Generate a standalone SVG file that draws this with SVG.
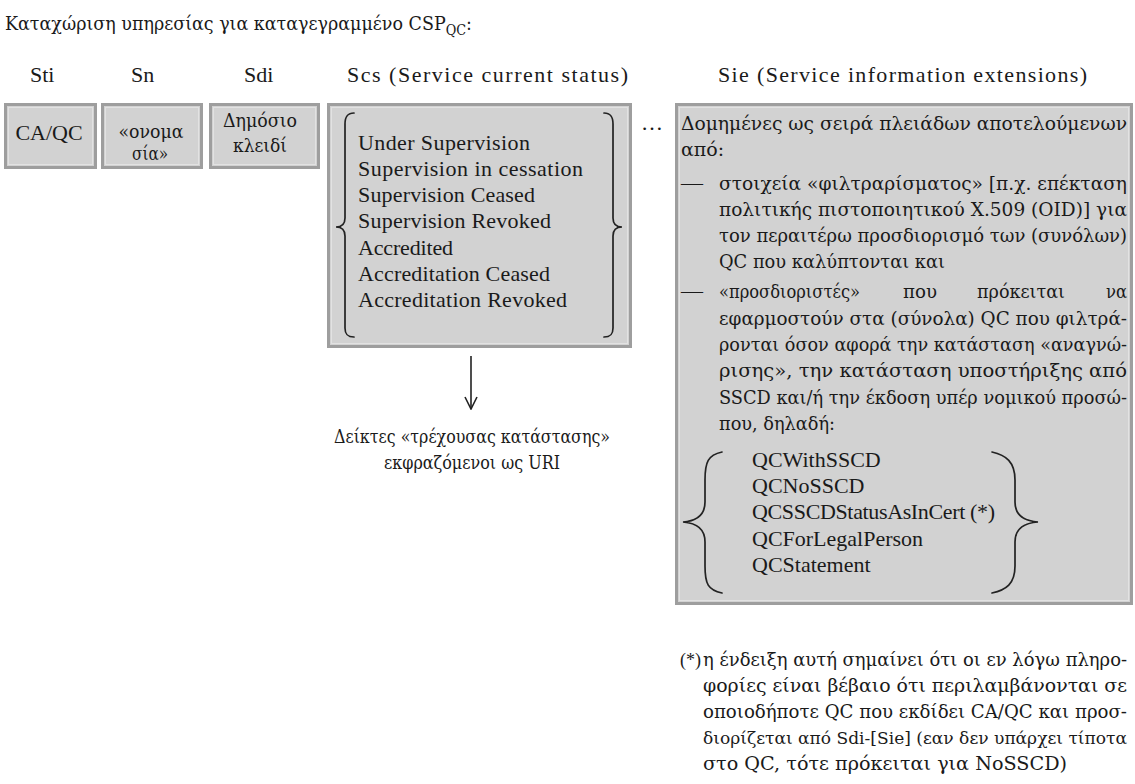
<svg xmlns="http://www.w3.org/2000/svg" width="1135" height="784" viewBox="0 0 1135 784">
<style>
text{font-family:"Liberation Serif","DejaVu Serif",serif;font-size:22px;fill:#1a1a1a}
text.gr{font-family:"DejaVu Serif","Liberation Serif",serif;font-size:19px}
text.j{font-size:18px}
.box{fill:#d2d2d2;stroke:#9e9e9e;stroke-width:3}
.inner{fill:none;stroke:#e2e2e2;stroke-width:1}
.brace{fill:none;stroke:#222;stroke-width:1.7;stroke-linecap:round}
.conn{stroke:#222;stroke-width:1.6;fill:none}
.mid{text-anchor:middle}
</style>
<defs>
<marker id="arrow" viewBox="0 0 14 14" refX="13" refY="7" markerWidth="14" markerHeight="14" markerUnits="userSpaceOnUse" orient="auto">
<path d="M1,1 L13,7 L1,13" fill="none" stroke="#222" stroke-width="1.6"/>
</marker>
</defs>
<rect width="1135" height="784" fill="#ffffff"/>

<g id="title">
<text class="gr" x="5" y="30" textLength="467" lengthAdjust="spacingAndGlyphs">Καταχώριση υπηρεσίας για καταγεγραμμένο CSP<tspan dy="5" style="font-size:14px">QC</tspan><tspan dy="-5">:</tspan></text>
</g>

<g id="headers">
<text x="30" y="82">Sti</text>
<text x="131" y="82">Sn</text>
<text x="244" y="82">Sdi</text>
<text x="347" y="82" textLength="281" lengthAdjust="spacing">Scs (Service current status)</text>
<text x="718" y="82" textLength="369" lengthAdjust="spacing">Sie (Service information extensions)</text>
</g>

<g id="node-sti">
<rect class="box" x="5.5" y="104.5" width="90" height="63"/>
<rect class="inner" x="8.5" y="107.5" width="84" height="57"/>
<text class="mid" x="49" y="140">CA/QC</text>
</g>

<g id="node-sn">
<rect class="box" x="102.5" y="104.5" width="99" height="63"/>
<rect class="inner" x="105.5" y="107.5" width="93" height="57"/>
<text class="gr mid" x="151" y="138" textLength="65" lengthAdjust="spacingAndGlyphs">«ονομα</text>
<text class="gr mid" x="150" y="160" textLength="36" lengthAdjust="spacingAndGlyphs">σία»</text>
</g>

<g id="node-sdi">
<rect class="box" x="210.5" y="104.5" width="108" height="63"/>
<rect class="inner" x="213.5" y="107.5" width="102" height="57"/>
<text class="gr mid" x="260" y="127" textLength="74" lengthAdjust="spacingAndGlyphs">Δημόσιο</text>
<text class="gr mid" x="260" y="152" textLength="54" lengthAdjust="spacingAndGlyphs">κλειδί</text>
</g>

<g id="node-scs">
<rect class="box" x="328.5" y="104.5" width="302" height="242"/>
<rect class="inner" x="331.5" y="107.5" width="296" height="236"/>
<path class="brace" d="M354,113 C347,113 345,117 345,124 L345,218 C345,224 342,227 336,227 C342,227 345,230 345,236 L345,328 C345,334 347,337 354,337"/>
<path class="brace" d="M604,113 C611,113 613,117 613,124 L613,218 C613,224 616,227 622,227 C616,227 613,230 613,236 L613,328 C613,334 611,337 604,337"/>
<text x="358" y="150" textLength="172" lengthAdjust="spacing">Under Supervision</text>
<text x="358" y="176" textLength="225" lengthAdjust="spacing">Supervision in cessation</text>
<text x="358" y="202" textLength="177" lengthAdjust="spacing">Supervision Ceased</text>
<text x="358" y="228" textLength="193" lengthAdjust="spacing">Supervision Revoked</text>
<text x="358" y="255" textLength="95" lengthAdjust="spacing">Accredited</text>
<text x="358" y="281" textLength="192" lengthAdjust="spacing">Accreditation Ceased</text>
<text x="358" y="307" textLength="209" lengthAdjust="spacing">Accreditation Revoked</text>
</g>

<g id="ellipsis">
<text x="641" y="130" textLength="22" lengthAdjust="spacing">…</text>
</g>

<g id="node-sie">
<rect class="box" x="676.5" y="104.5" width="455" height="499"/>
<rect class="inner" x="679.5" y="107.5" width="449" height="493"/>
<text class="gr j" x="681" y="130" textLength="446" lengthAdjust="spacingAndGlyphs">Δομημένες ως σειρά πλειάδων αποτελούμενων</text>
<text class="gr" x="681" y="156">από:</text>
<text x="681" y="190">—</text>
<text class="gr j" x="719" y="190" textLength="408" lengthAdjust="spacingAndGlyphs">στοιχεία «φιλτραρίσματος» [π.χ. επέκταση</text>
<text class="gr j" x="719" y="216" textLength="408" lengthAdjust="spacingAndGlyphs">πολιτικής πιστοποιητικού X.509 (OID)] για</text>
<text class="gr j" x="719" y="242" textLength="408" lengthAdjust="spacingAndGlyphs">τον περαιτέρω προσδιορισμό των (συνόλων)</text>
<text class="gr" x="719" y="268" textLength="226" lengthAdjust="spacingAndGlyphs">QC που καλύπτονται και</text>
<text x="681" y="298">—</text>
<text class="gr" x="719" y="298" textLength="141" lengthAdjust="spacingAndGlyphs">«προσδιοριστές»</text>
<text class="gr" x="903" y="298" textLength="34" lengthAdjust="spacingAndGlyphs">που</text>
<text class="gr" x="977" y="298" textLength="88" lengthAdjust="spacingAndGlyphs">πρόκειται</text>
<text class="gr" x="1106" y="298" textLength="21" lengthAdjust="spacingAndGlyphs">να</text>
<text class="gr j" x="719" y="325" textLength="408" lengthAdjust="spacingAndGlyphs">εφαρμοστούν στα (σύνολα) QC που φιλτρά-</text>
<text class="gr j" x="719" y="351" textLength="408" lengthAdjust="spacingAndGlyphs">ρονται όσον αφορά την κατάσταση «αναγνώ-</text>
<text class="gr j" x="719" y="377" textLength="408" lengthAdjust="spacingAndGlyphs">ρισης», την κατάσταση υποστήριξης από</text>
<text class="gr j" x="719" y="404" textLength="408" lengthAdjust="spacingAndGlyphs">SSCD και/ή την έκδοση υπέρ νομικού προσώ-</text>
<text class="gr" x="719" y="430" textLength="116" lengthAdjust="spacingAndGlyphs">που, δηλαδή:</text>
<path class="brace" d="M722,452 C708,455 705,462 705,480 L705,502 C705,515 697,521 683,522 C697,523 705,529 705,542 L705,566 C705,584 708,590 722,593"/>
<path class="brace" d="M992,452 C1006,455 1015,462 1015,480 L1015,502 C1015,515 1024,521 1038,522 C1024,523 1015,529 1015,542 L1015,566 C1015,584 1006,590 992,593"/>
<text x="752" y="467">QCWithSSCD</text>
<text x="752" y="493">QCNoSSCD</text>
<text x="752" y="519" textLength="243" lengthAdjust="spacing">QCSSCDStatusAsInCert (*)</text>
<text x="752" y="546">QCForLegalPerson</text>
<text x="752" y="572">QCStatement</text>
</g>

<g id="connectors">
<line class="conn" x1="471" y1="356" x2="471" y2="409" marker-end="url(#arrow)"/>
</g>

<g id="status-indicators">
<text class="gr mid" x="472" y="443" textLength="276" lengthAdjust="spacingAndGlyphs">Δείκτες «τρέχουσας κατάστασης»</text>
<text class="gr mid" x="472" y="469" textLength="176" lengthAdjust="spacingAndGlyphs">εκφραζόμενοι ως URI</text>
</g>

<g id="footnote">
<text x="680" y="666" style="font-size:18px">(*)</text>
<text class="gr j" x="703" y="666" textLength="424" lengthAdjust="spacingAndGlyphs">η ένδειξη αυτή σημαίνει ότι οι εν λόγω πληρο-</text>
<text class="gr j" x="703" y="692" textLength="424" lengthAdjust="spacingAndGlyphs">φορίες είναι βέβαιο ότι περιλαμβάνονται σε</text>
<text class="gr j" x="703" y="718" textLength="424" lengthAdjust="spacingAndGlyphs">οποιοδήποτε QC που εκδίδει CA/QC και προσ-</text>
<text class="gr j" x="703" y="744" textLength="424" lengthAdjust="spacingAndGlyphs" style="font-size:17.5px">διορίζεται από Sdi-[Sie] (εαν δεν υπάρχει τίποτα</text>
<text class="gr" x="703" y="770" textLength="364" lengthAdjust="spacingAndGlyphs">στο QC, τότε πρόκειται για NoSSCD)</text>
</g>
</svg>
